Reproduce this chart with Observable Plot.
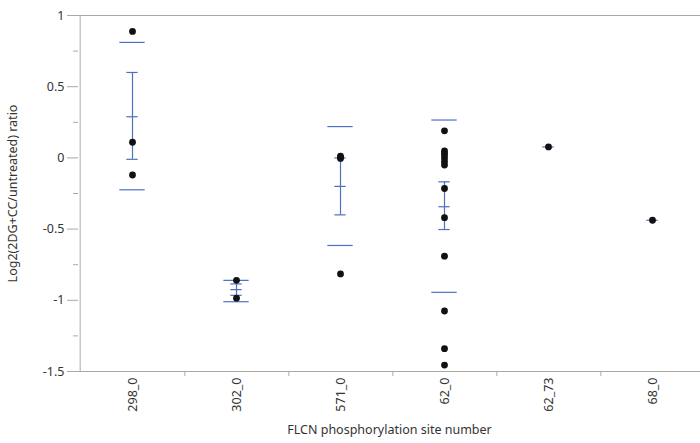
<!DOCTYPE html>
<html>
<head>
<meta charset="utf-8">
<script src="https://cdn.jsdelivr.net/npm/d3@7"></script>
<script src="https://cdn.jsdelivr.net/npm/@observablehq/plot@0.6"></script>
<style>
  html, body { margin: 0; padding: 0; background: #fff; }
  #chart svg { display: block; }
</style>
</head>
<body>
<div id="chart"></div>
<script>
// Categories (x)
const sites = ["298_0", "302_0", "571_0", "62_0", "62_73", "68_0"];

// Individual observations per site
const pts298 = [0.888, 0.11, -0.12];
const pts302 = [-0.86, -0.985];
const pts571 = [0.012, 0.004, -0.004, -0.815];
const pts620 = [0.19, 0.05, 0.035, 0.02, 0.0, -0.025, -0.05, -0.215, -0.42, -0.69, -1.075, -1.34, -1.455];
const pts6273 = [0.077];
const pts680 = [-0.438];

// Summary statistics
const means  = [0.289, -0.925, -0.20, -0.343, 0.077, -0.438];
const seLow  = [-0.01, -0.965, -0.40, -0.503, null, null];
const seHigh = [0.60, -0.885, 0.0, -0.168, null, null];
const sdLow  = [-0.224, -1.01, -0.615, -0.944, null, null];
const sdHigh = [0.811, -0.86, 0.22, 0.266, null, null];

// Axis ticks
const yMajor = [-1.5, -1, -0.5, 0, 0.5, 1];
const yMinor = [-1.25, -0.75, -0.25, 0.25, 0.75];

const groups = [pts298, pts302, pts571, pts620, pts6273, pts680];
const points = groups.flatMap((g, i) => g.map(v => ({site: sites[i], value: v})));
const stats = sites.map((s, i) => ({
  site: s, mean: means[i], seLow: seLow[i], seHigh: seHigh[i], sdLow: sdLow[i], sdHigh: sdHigh[i]
}));
const spread = stats.filter(d => d.seLow != null);

const W = 700, H = 443;
const mL = 78, mT = 15, mB = 72;
const xRange = [mL, 706];
const bw = (xRange[1] - xRange[0]) / sites.length;
const blue = "#4f6fc4";
const axisGray = "#a9a9a9";
const font = "'Noto Sans', 'Open Sans', sans-serif";

const chart = Plot.plot({
  width: W,
  height: H,
  marginLeft: mL,
  marginRight: 0,
  marginTop: mT,
  marginBottom: mB,
  style: {fontFamily: font, fontSize: "12px", color: "#333", background: "#fff"},
  x: {domain: sites, range: xRange, padding: 0},
  y: {domain: [-1.5, 1], nice: false},
  marks: [
    // frame lines
    Plot.ruleY([1, -1.5], {stroke: axisGray, strokeWidth: 1}),
    Plot.ruleX([sites[0]], {dx: -bw / 2, stroke: axisGray, strokeWidth: 1}),
    // x boundary ticks (between categories)
    Plot.axisX({ticks: sites.slice(0, -1), dx: bw / 2, tickSize: 5, stroke: axisGray, text: null, label: null}),
    // y axis major & minor
    Plot.axisY({ticks: yMajor, tickSize: 11, tickPadding: 3, stroke: axisGray, fill: "#333",
      tickFormat: d => String(d), fontSize: 12.5,
      label: "Log2(2DG+CC/untreated) ratio", labelAnchor: "center", labelArrow: "none", labelOffset: 70}),
    Plot.axisY({ticks: yMinor, tickSize: 5, stroke: axisGray, text: null, label: null}),
    // x axis labels
    Plot.axisX({tickSize: 0, tickPadding: 6, tickRotate: -90, fill: "#333", fontSize: 12.5,
      label: "FLCN phosphorylation site number", labelAnchor: "center", labelArrow: "none", labelOffset: 62}),
    // SD lines
    Plot.tickY(spread, {x: "site", y: "sdHigh", stroke: blue, strokeWidth: 1.2, insetLeft: bw / 2 - 13, insetRight: bw / 2 - 13}),
    Plot.tickY(spread, {x: "site", y: "sdLow", stroke: blue, strokeWidth: 1.2, insetLeft: bw / 2 - 13, insetRight: bw / 2 - 13}),
    // SE bars
    Plot.ruleX(spread, {x: "site", y1: "seLow", y2: "seHigh", stroke: blue, strokeWidth: 1.2}),
    Plot.tickY(spread, {x: "site", y: "seHigh", stroke: blue, strokeWidth: 1.2, insetLeft: bw / 2 - 6, insetRight: bw / 2 - 6}),
    Plot.tickY(spread, {x: "site", y: "seLow", stroke: blue, strokeWidth: 1.2, insetLeft: bw / 2 - 6, insetRight: bw / 2 - 6}),
    // mean tick
    Plot.tickY(stats, {x: "site", y: "mean", stroke: blue, strokeWidth: 1.2, insetLeft: bw / 2 - 6, insetRight: bw / 2 - 6}),
    // points
    Plot.dot(points, {x: "site", y: "value", r: 3.4, fill: "#111", stroke: "none"})
  ]
});

document.getElementById("chart").appendChild(chart);
</script>
</body>
</html>
